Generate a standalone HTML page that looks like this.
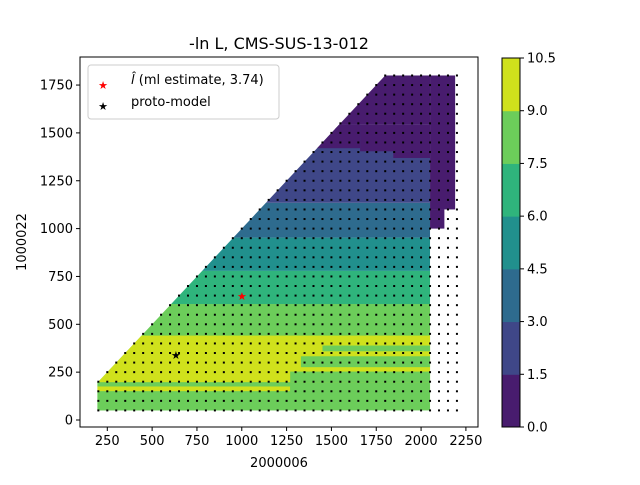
<!DOCTYPE html>
<html><head><meta charset="utf-8"><style>
body{margin:0;background:#fff;}
svg text{font-family:"DejaVu Sans","Liberation Sans",sans-serif;}
</style></head><body>
<svg id="fig" width="640" height="480" viewBox="0 0 640 480" xmlns="http://www.w3.org/2000/svg">
<rect width="640" height="480" fill="#fff"/>
<defs><clipPath id="tri"><polygon id="triPoly" points=""/></clipPath>
<clipPath id="axclip"><rect x="80" y="57" width="398" height="370"/></clipPath></defs>
<g id="bands" clip-path="url(#axclip)"><g id="bandsInner" clip-path="url(#tri)"></g></g>
<g id="dots" clip-path="url(#axclip)"></g>
<g id="markers"></g>
<rect x="80" y="57" width="398" height="370" fill="none" stroke="#000" stroke-width="1"/>
<g id="xticks"></g><g id="yticks"></g>
<text x="279" y="49" font-size="16" text-anchor="middle">-ln L, CMS-SUS-13-012</text>
<text x="279" y="467" font-size="13" text-anchor="middle">2000006</text>
<text transform="translate(26,242) rotate(-90)" font-size="13" text-anchor="middle">1000022</text>
<g>
<rect x="88" y="65" width="191" height="54" rx="3" fill="#fff" fill-opacity="0.8" stroke="#ccc"/>
<text x="103" y="89" font-size="11" fill="red" text-anchor="middle">★</text>
<text x="131" y="84" font-size="13"><tspan font-style="italic">l̂</tspan> (ml estimate, 3.74)</text>
<text x="103" y="110" font-size="11" fill="#000" text-anchor="middle">★</text>
<text x="131" y="106" font-size="13">proto-model</text>
</g>
<g id="cbar"></g>
</svg>
<script>
const levels=[0,1.5,3,4.5,6,7.5,9,10.5];
const bandColors=["#481c6e","#3f4788","#2e6b8e","#21908d","#2fb47c","#6ccd5a","#d0e11c"];
// bands: [x0,x1,y0,y1,bandIndex] in data units
const bandRects=[
[150,2050,50,606,5],[150,2050,606,779,4],[150,2050,779,953,3],[150,2050,953,1135,2],
[150,2050,1135,1545,1],[1660,2050,1404,1545,0],[1845,2050,1369,1404,0],[150,2050,1545,1800,0],
[1380,1660,1420,1545,0],[1520,1660,1480,1545,0],
[2050,2190,1100,1800,0],[2050,2130,1000,1100,0],[150,2050,197,441,6],[1450,2050,359,389,5],[1330,2050,276,333,5],
[1270,2050,197,253,5],[150,2050,175,197,5],[150,1270,150,175,6],[1270,2050,150,175,5],
[150,1150,50,150,5],[1150,2050,135,150,5]];
const triangleCorners=[[195,0],[195,195],[1805,1805],[2300,1805],[2300,0]];
const dotX0=200,dotX1=2200,dotY0=50,dotY1=1800,dotStep=50;
const mlPoint=[1001,649];
const protoPoint=[633,340];
const xTicks=[250,500,750,1000,1250,1500,1750,2000,2250];
const yTicks=[0,250,500,750,1000,1250,1500,1750];
const cbTicks=["0.0","1.5","3.0","4.5","6.0","7.5","9.0","10.5"];

const NS="http://www.w3.org/2000/svg";
const sx=v=>107.3+(v-250)*0.1793;
const sy=v=>420-v*0.1914;
function mk(tag,attrs,parent){const e=document.createElementNS(NS,tag);for(const k in attrs)e.setAttribute(k,attrs[k]);parent.appendChild(e);return e;}
document.getElementById('triPoly').setAttribute('points',triangleCorners.map(p=>sx(p[0])+','+sy(p[1])).join(' '));
const bg=document.getElementById('bandsInner');
bandRects.forEach((b,i)=>{
 const r=mk('rect',{x:sx(b[0]),y:sy(b[3]),width:sx(b[1])-sx(b[0]),height:sy(b[2])-sy(b[3]),fill:bandColors[b[4]]},bg);
 
 
});
const dg=document.getElementById('dots');
for(let x=dotX0;x<=dotX1;x+=dotStep){for(let y=dotY0;y<=dotY1;y+=dotStep){
 if(y>x+5)continue;
 const d=mk('rect',{x:sx(x)-1,y:sy(y)-1,width:2,height:2,fill:'#000'},dg);
 
 
}}
const mg=document.getElementById('markers');
const m1=mk('text',{x:sx(mlPoint[0]),y:sy(mlPoint[1])+4,'font-size':11,fill:'red','text-anchor':'middle'},mg);m1.textContent='★';


const m2=mk('text',{x:sx(protoPoint[0]),y:sy(protoPoint[1])+4,'font-size':11,fill:'#000','text-anchor':'middle'},mg);m2.textContent='★';


const xg=document.getElementById('xticks');
xTicks.forEach(t=>{const x=sx(t);mk('line',{x1:x,x2:x,y1:427,y2:431,stroke:'#000'},xg);
 const l=mk('text',{x:x,y:445,'font-size':13,'text-anchor':'middle'},xg);l.textContent=t;
 
 });
const yg=document.getElementById('yticks');
yTicks.forEach(t=>{const y=sy(t);mk('line',{x1:76,x2:80,y1:y,y2:y,stroke:'#000'},yg);
 const l=mk('text',{x:73,y:y+4.5,'font-size':13,'text-anchor':'end'},yg);l.textContent=t;
 
 });
const cb=document.getElementById('cbar');
const cTop=58,cBot=427,cL=502,cW=18;
const cy=v=>cBot-(v-levels[0])/(levels[levels.length-1]-levels[0])*(cBot-cTop);
for(let i=0;i<bandColors.length;i++){
 const r=mk('rect',{x:cL,y:cy(levels[i+1]),width:cW,height:cy(levels[i])-cy(levels[i+1])+0.5,fill:bandColors[i]},cb);
 
 
}
mk('rect',{x:cL,y:cTop,width:cW,height:cBot-cTop,fill:'none',stroke:'#000'},cb);
levels.forEach((v,i)=>{const y=cy(v);mk('line',{x1:cL+cW,x2:cL+cW+4,y1:y,y2:y,stroke:'#000'},cb);
 const l=mk('text',{x:cL+cW+7,y:y+4.5,'font-size':13},cb);l.textContent=cbTicks[i];
 
 });
</script>
</body></html>
